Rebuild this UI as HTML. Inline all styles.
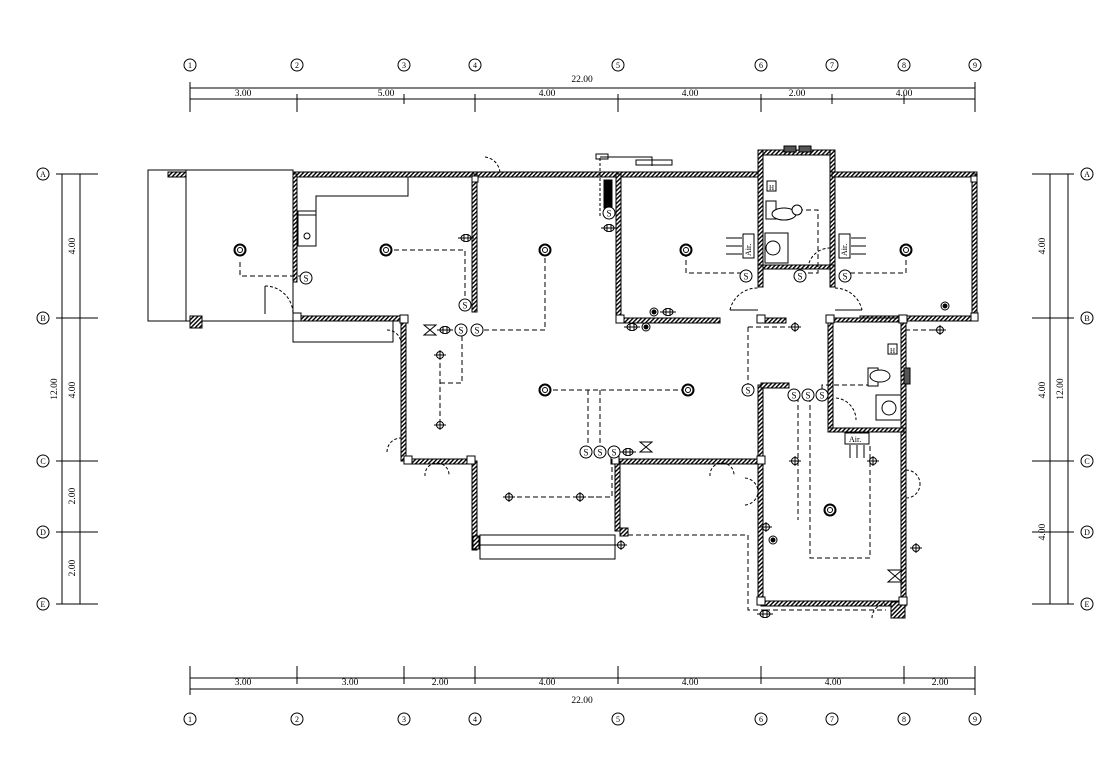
<!DOCTYPE html>
<html><head><meta charset="utf-8"><style>
body{margin:0;background:#fff}
svg{display:block}
text{font-family:"Liberation Serif",serif;fill:#000}
</style></head><body>
<svg width="1120" height="780" viewBox="0 0 1120 780" xmlns="http://www.w3.org/2000/svg">
<defs>
<pattern id="h" width="3" height="3" patternUnits="userSpaceOnUse" patternTransform="rotate(45)">
<rect width="3" height="3" fill="#fff"/><rect width="1.4" height="3" fill="#000"/></pattern>
<g id="lt"><circle r="5.5" fill="#fff" stroke="#000" stroke-width="2"/><circle r="2.5" fill="none" stroke="#000" stroke-width="1"/></g>
<g id="sw"><circle r="6" fill="#fff" stroke="#000"/><text x="0" y="3.5" font-size="9" text-anchor="middle">S</text></g>
<g id="pl"><circle r="3.5" fill="none" stroke="#000"/><line x1="-6" y1="0" x2="6" y2="0" stroke="#000"/><line x1="0" y1="-5" x2="0" y2="5" stroke="#000"/></g>
<g id="so"><ellipse rx="5" ry="3.5" fill="none" stroke="#000"/><line x1="-8" y1="0" x2="8" y2="0" stroke="#000"/><line x1="-2" y1="-4" x2="-2" y2="4" stroke="#000"/><line x1="2" y1="-4" x2="2" y2="4" stroke="#000"/></g>
</defs>

<!-- grid dims top -->
<g stroke="#000" stroke-width="1" fill="none">
<line x1="190" y1="88" x2="975" y2="88"/><line x1="190" y1="99" x2="975" y2="99"/>
<line x1="190" y1="689" x2="975" y2="689"/><line x1="190" y1="678" x2="975" y2="678"/>
<line x1="62" y1="174" x2="62" y2="604"/><line x1="80" y1="174" x2="80" y2="604"/>
<line x1="1050" y1="174" x2="1050" y2="604"/><line x1="1068" y1="174" x2="1068" y2="604"/>
</g>
<g stroke="#000" fill="none">
<!-- top ticks -->
<path d="M190 82V112M297 94V112M404 94V104M475 94V112M618 94V112M761 94V112M832 94V104M904 94V104M975 82V112"/>
<path d="M190 666V695M297 666V684M404 666V684M475 666V684M618 666V684M761 666V684M904 666V684M975 666V695"/>
<path d="M56 174H98M56 318H98M56 461H98M56 532H98M56 604H98"/>
<path d="M1032 174H1074M1032 318H1074M1032 461H1074M1032 532H1074M1032 604H1074"/>
</g>
<g font-size="9.5" text-anchor="middle">
<text x="582" y="82">22.00</text>
<text x="243" y="96">3.00</text><text x="386" y="96">5.00</text><text x="547" y="96">4.00</text><text x="690" y="96">4.00</text><text x="797" y="96">2.00</text><text x="904" y="96">4.00</text>
<text x="243" y="685">3.00</text><text x="350" y="685">3.00</text><text x="440" y="685">2.00</text><text x="547" y="685">4.00</text><text x="690" y="685">4.00</text><text x="833" y="685">4.00</text><text x="940" y="685">2.00</text>
<text x="582" y="703">22.00</text>
</g>
<g font-size="9.5" text-anchor="middle">
<text transform="translate(75,246) rotate(-90)">4.00</text>
<text transform="translate(75,390) rotate(-90)">4.00</text>
<text transform="translate(75,496) rotate(-90)">2.00</text>
<text transform="translate(75,568) rotate(-90)">2.00</text>
<text transform="translate(57,389) rotate(-90)">12.00</text>
<text transform="translate(1045,246) rotate(-90)">4.00</text>
<text transform="translate(1045,390) rotate(-90)">4.00</text>
<text transform="translate(1045,532) rotate(-90)">4.00</text>
<text transform="translate(1063,389) rotate(-90)">12.00</text>
</g>
<!-- grid bubbles -->
<g fill="#fff" stroke="#000">
<circle cx="190" cy="65" r="6"/><circle cx="297" cy="65" r="6"/><circle cx="404" cy="65" r="6"/><circle cx="475" cy="65" r="6"/><circle cx="618" cy="65" r="6"/><circle cx="761" cy="65" r="6"/><circle cx="832" cy="65" r="6"/><circle cx="904" cy="65" r="6"/><circle cx="975" cy="65" r="6"/>
<circle cx="190" cy="719" r="6"/><circle cx="297" cy="719" r="6"/><circle cx="404" cy="719" r="6"/><circle cx="475" cy="719" r="6"/><circle cx="618" cy="719" r="6"/><circle cx="761" cy="719" r="6"/><circle cx="832" cy="719" r="6"/><circle cx="904" cy="719" r="6"/><circle cx="975" cy="719" r="6"/>
<circle cx="43" cy="174" r="6"/><circle cx="43" cy="318" r="6"/><circle cx="43" cy="461" r="6"/><circle cx="43" cy="532" r="6"/><circle cx="43" cy="604" r="6"/>
<circle cx="1087" cy="174" r="6"/><circle cx="1087" cy="318" r="6"/><circle cx="1087" cy="461" r="6"/><circle cx="1087" cy="532" r="6"/><circle cx="1087" cy="604" r="6"/>
</g>
<g font-size="8" text-anchor="middle">
<text x="190" y="68">1</text><text x="297" y="68">2</text><text x="404" y="68">3</text><text x="475" y="68">4</text><text x="618" y="68">5</text><text x="761" y="68">6</text><text x="832" y="68">7</text><text x="904" y="68">8</text><text x="975" y="68">9</text>
<text x="190" y="722">1</text><text x="297" y="722">2</text><text x="404" y="722">3</text><text x="475" y="722">4</text><text x="618" y="722">5</text><text x="761" y="722">6</text><text x="832" y="722">7</text><text x="904" y="722">8</text><text x="975" y="722">9</text>
<text x="43" y="177">A</text><text x="43" y="321">B</text><text x="43" y="464">C</text><text x="43" y="535">D</text><text x="43" y="607">E</text>
<text x="1087" y="177">A</text><text x="1087" y="321">B</text><text x="1087" y="464">C</text><text x="1087" y="535">D</text><text x="1087" y="607">E</text>
</g>

<!-- carport / thin lines -->
<g stroke="#000" fill="none">
<rect x="148" y="170" width="145" height="151"/>
<line x1="186" y1="170" x2="186" y2="321"/>
<path d="M297 174H408V196H316V215H297"/>
<rect x="293" y="321" width="100" height="21"/>
<rect x="480" y="535" width="135" height="24"/>
<line x1="480" y1="545" x2="615" y2="545"/>
</g>

<!-- walls -->
<g fill="url(#h)" stroke="#000" stroke-width="1">
<rect x="293" y="172" width="184" height="5"/>
<rect x="477" y="172" width="141" height="5"/>
<rect x="618" y="172" width="143" height="5"/>
<rect x="758" y="150" width="77" height="5"/>
<rect x="758" y="150" width="5" height="118"/>
<rect x="830" y="150" width="5" height="118"/>
<rect x="763" y="265" width="67" height="4"/>
<rect x="832" y="172" width="145" height="5"/>
<rect x="972" y="174" width="5" height="146"/>
<rect x="860" y="316" width="117" height="5"/>
<rect x="616" y="174" width="5" height="149"/>
<rect x="616" y="318" width="104" height="5"/>
<rect x="758" y="265" width="5" height="22"/>
<rect x="830" y="265" width="5" height="22"/>
<rect x="293" y="174" width="4" height="108"/>
<rect x="297" y="316" width="107" height="5"/>
<rect x="472" y="174" width="5" height="138"/>
<rect x="401" y="318" width="5" height="143"/>
<rect x="404" y="459" width="71" height="5"/>
<rect x="618" y="459" width="143" height="5"/>
<rect x="758" y="385" width="5" height="219"/>
<rect x="761" y="383" width="28" height="5"/>
<rect x="761" y="601" width="143" height="5"/>
<rect x="901" y="318" width="5" height="288"/>
<rect x="828" y="318" width="5" height="112"/>
<rect x="828" y="428" width="76" height="4"/>
<rect x="832" y="318" width="72" height="4"/>
<rect x="472" y="461" width="5" height="89"/>
<rect x="615" y="461" width="5" height="70"/>
<rect x="758" y="318" width="28" height="5"/>
<rect x="168" y="172" width="18" height="5"/>
<rect x="190" y="316" width="12" height="12"/>
<rect x="891" y="602" width="14" height="16"/>
</g>
<!-- columns -->
<g fill="#fff" stroke="#000">
<rect x="293" y="313" width="8" height="8"/><rect x="400" y="315" width="8" height="8"/><rect x="472" y="176" width="6" height="6"/>
<rect x="616" y="315" width="8" height="8"/><rect x="757" y="315" width="8" height="8"/><rect x="971" y="176" width="6" height="6"/>
<rect x="971" y="313" width="7" height="8"/><rect x="404" y="456" width="8" height="8"/><rect x="467" y="456" width="8" height="8"/>
<rect x="611" y="456" width="8" height="8"/><rect x="757" y="456" width="8" height="8"/><rect x="757" y="597" width="8" height="8"/>
<rect x="899" y="597" width="8" height="8"/><rect x="899" y="315" width="8" height="8"/><rect x="826" y="315" width="8" height="8"/>
</g>

<!-- doors -->
<g stroke="#000" fill="none" stroke-dasharray="3,2">
<path d="M265 286A28 28 0 0 1 293 314"/>
<path d="M485 157A17 17 0 0 1 500 173"/>
<path d="M730 310A28 28 0 0 1 758 288"/>
<path d="M835 288A28 28 0 0 1 862 310"/>
<path d="M808 268A22 22 0 0 1 830 248"/>
<path d="M387 330A14 14 0 0 1 401 342"/>
<path d="M387 452A14 14 0 0 1 401 438"/>
<path d="M836 398A22 22 0 0 1 856 420"/>
<path d="M425 476A12 12 0 0 1 437 463M437 463A12 12 0 0 1 449 476"/>
<path d="M710 476A12 12 0 0 1 722 463M722 463A12 12 0 0 1 734 476"/>
<path d="M745 478A14 14 0 0 1 758 492M745 505A14 14 0 0 0 758 492"/>
<path d="M906 470A14 14 0 0 1 920 484M906 498A14 14 0 0 0 920 484"/>
<path d="M872 618A14 14 0 0 1 886 604"/>
<path d="M600 158V216"/>
</g>
<g stroke="#000" fill="none">
<path d="M730 310H758M835 310H862M265 286V314"/>
<rect x="604" y="180" width="8" height="28" fill="#000"/>
<rect x="636" y="160" width="36" height="5"/>
<rect x="298" y="211" width="18" height="35"/><circle cx="307" cy="236" r="3"/>
<rect x="596" y="154" width="12" height="5" />
<path d="M600 157H652V166"/>
</g>
<!-- dashed wiring -->
<g stroke="#000" fill="none" stroke-dasharray="5,3">
<path d="M240 262V276H300"/>
<path d="M386 250H465V300"/>
<path d="M545 250V330H482"/>
<path d="M440 355V420M440 383H462V330"/>
<path d="M545 390H683M588 390V452M600 390V452"/>
<path d="M686 252V273H745"/>
<path d="M906 252V273H845"/>
<path d="M790 210H818V273H805"/>
<path d="M748 327H795M748 327V390M750 390V385"/>
<path d="M798 397V520M810 397V558H870V445"/>
<path d="M822 397V385H868"/>
<path d="M509 497H612V452M580 497H600"/>
<path d="M620 535H748V610H765"/>
<path d="M765 610H886"/>
<path d="M905 330H940"/>
</g>
<!-- fixtures -->
<use href="#lt" x="240" y="250"/><use href="#lt" x="386" y="250"/><use href="#lt" x="545" y="250"/>
<use href="#lt" x="686" y="250"/><use href="#lt" x="906" y="250"/><use href="#lt" x="545" y="390"/>
<use href="#lt" x="688" y="390"/><use href="#lt" x="830" y="510"/>
<use href="#sw" x="306" y="278"/><use href="#sw" x="465" y="305"/><use href="#sw" x="461" y="330"/><use href="#sw" x="477" y="330"/>
<use href="#sw" x="609" y="213"/><use href="#sw" x="746" y="276"/><use href="#sw" x="800" y="276"/><use href="#sw" x="845" y="276"/>
<use href="#sw" x="748" y="390"/><use href="#sw" x="794" y="395"/><use href="#sw" x="808" y="395"/><use href="#sw" x="822" y="395"/>
<use href="#sw" x="586" y="452"/><use href="#sw" x="600" y="452"/><use href="#sw" x="614" y="452"/>
<use href="#pl" x="440" y="355"/><use href="#pl" x="440" y="425"/><use href="#pl" x="509" y="497"/><use href="#pl" x="580" y="497"/>
<use href="#pl" x="795" y="327"/><use href="#pl" x="795" y="461"/><use href="#pl" x="873" y="461"/><use href="#pl" x="766" y="527"/><use href="#pl" x="916" y="548"/>
<use href="#pl" x="621" y="545"/><use href="#pl" x="940" y="330"/>
<use href="#so" x="466" y="238"/><use href="#so" x="609" y="228"/><use href="#so" x="632" y="327"/><use href="#so" x="668" y="312"/>
<use href="#so" x="445" y="330"/><use href="#so" x="628" y="452"/><use href="#so" x="765" y="614"/>
<g fill="#000" stroke="#000"><circle cx="654" cy="312" r="4" fill="#fff"/><circle cx="654" cy="312" r="2"/><circle cx="646" cy="327" r="4" fill="#fff"/><circle cx="646" cy="327" r="2"/><circle cx="945" cy="306" r="4" fill="#fff"/><circle cx="945" cy="306" r="2"/><circle cx="773" cy="540" r="4" fill="#fff"/><circle cx="773" cy="540" r="2"/></g>
<!-- Air units -->
<g stroke="#000" fill="#fff" font-size="8">
<rect x="743" y="234" width="11" height="24"/><rect x="839" y="234" width="11" height="24"/>
<rect x="845" y="433" width="24" height="11"/>
</g>
<g font-size="8">
<text transform="translate(751,256) rotate(-90)">Air.</text>
<text transform="translate(847,256) rotate(-90)">Air.</text>
<text x="849" y="442">Air.</text>
</g>
<g stroke="#000" fill="none"><path d="M726 238H742M726 246H742M726 254H742M851 238H866M851 246H866M851 254H866M850 445V458M857 445V458M864 445V458"/></g>
<!-- bathroom fixtures -->
<g stroke="#000" fill="#fff">
<rect x="766" y="201" width="10" height="18"/><ellipse cx="784" cy="214" rx="12" ry="6"/><circle cx="797" cy="210" r="5"/>
<rect x="765" y="233" width="23" height="30"/><circle cx="773" cy="248" r="7"/>
<rect x="767" y="181" width="9" height="10"/>
<rect x="868" y="368" width="10" height="18"/><ellipse cx="880" cy="376" rx="10" ry="6"/>
<rect x="876" y="395" width="25" height="25"/><circle cx="889" cy="408" r="7"/>
<rect x="888" y="344" width="9" height="10"/>
<rect x="784" y="146" width="12" height="6" fill="#555"/><rect x="799" y="146" width="12" height="6" fill="#555"/>
<rect x="904" y="368" width="6" height="16" fill="#555"/>
</g>
<g font-size="7"><text x="769" y="190">H</text><text x="890" y="353">H</text></g>
<!-- triangles (panels) -->
<g stroke="#000" fill="#fff"><path d="M424 325H436L424 335H436Z"/><path d="M640 442H652L640 452H652Z"/><path d="M888 570H902L888 582H902Z"/></g>
<g stroke="#000" fill="#000"><rect x="620" y="528" width="8" height="8" fill="url(#h)"/><rect x="473" y="536" width="6" height="13" fill="url(#h)"/></g>
</svg>
</body></html>
